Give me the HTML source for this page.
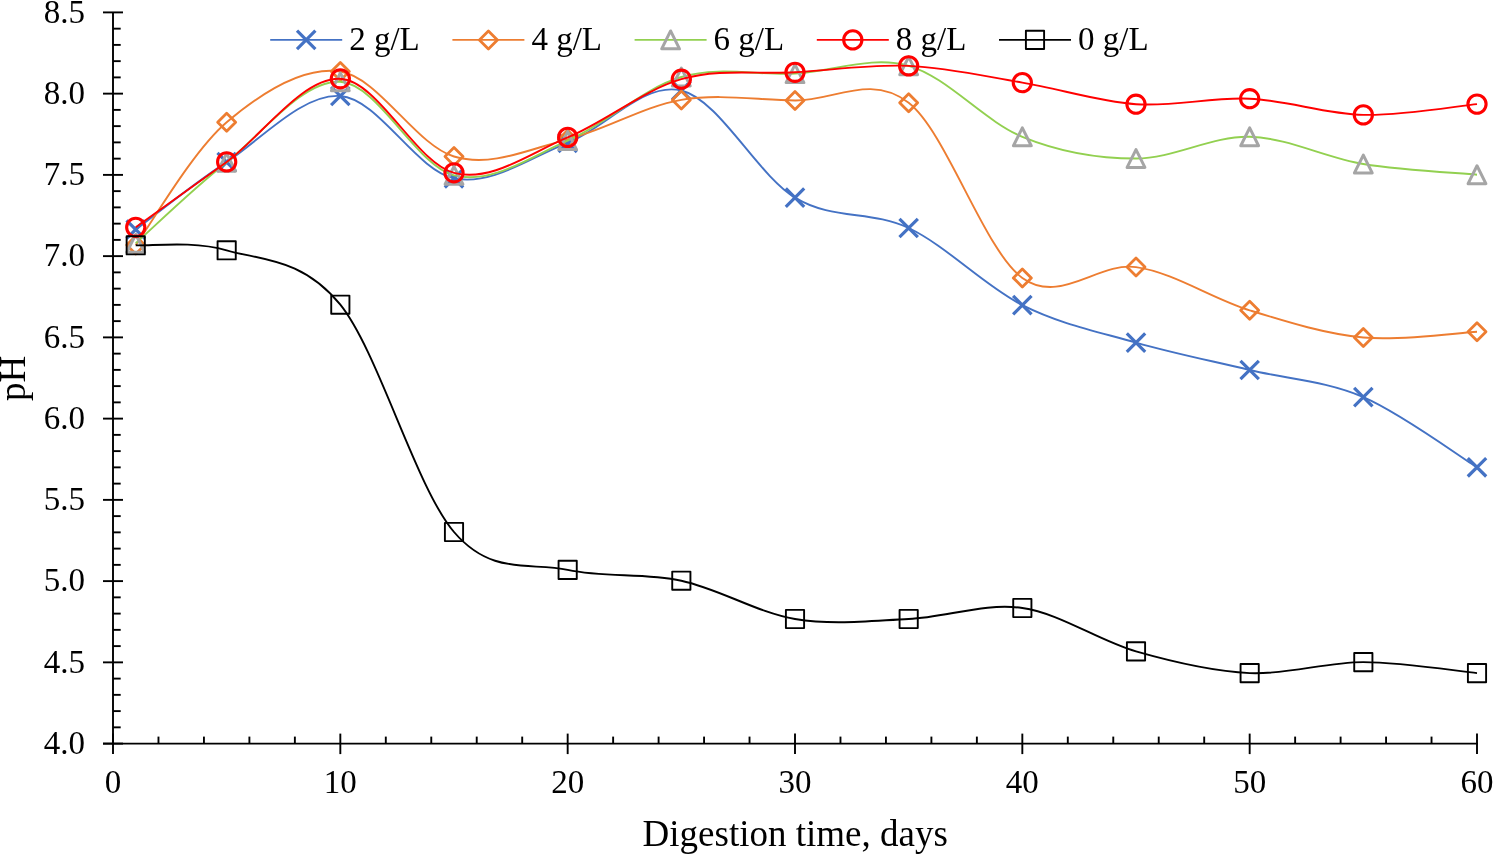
<!DOCTYPE html>
<html><head><meta charset="utf-8"><title>pH vs digestion time</title>
<style>
html,body{margin:0;padding:0;background:#fff;width:1493px;height:854px;overflow:hidden}
svg{display:block;will-change:transform}
.t{font-family:"Liberation Serif",serif;font-size:33px;fill:#000}
.ti{font-family:"Liberation Serif",serif;font-size:37px;fill:#000}
</style></head><body>
<svg width="1493" height="854" viewBox="0 0 1493 854">
<rect width="1493" height="854" fill="#fff"/>
<line x1="113.0" y1="12.40" x2="113.0" y2="744.60" stroke="#000" stroke-width="1.9"/>
<line x1="103.00" y1="743.6" x2="1478.00" y2="743.6" stroke="#000" stroke-width="1.9"/>
<line x1="103.00" y1="743.60" x2="123.00" y2="743.60" stroke="#000" stroke-width="1.9"/>
<line x1="113.00" y1="727.35" x2="120.70" y2="727.35" stroke="#000" stroke-width="1.9"/>
<line x1="113.00" y1="711.10" x2="120.70" y2="711.10" stroke="#000" stroke-width="1.9"/>
<line x1="113.00" y1="694.85" x2="120.70" y2="694.85" stroke="#000" stroke-width="1.9"/>
<line x1="113.00" y1="678.60" x2="120.70" y2="678.60" stroke="#000" stroke-width="1.9"/>
<line x1="103.00" y1="662.36" x2="123.00" y2="662.36" stroke="#000" stroke-width="1.9"/>
<line x1="113.00" y1="646.11" x2="120.70" y2="646.11" stroke="#000" stroke-width="1.9"/>
<line x1="113.00" y1="629.86" x2="120.70" y2="629.86" stroke="#000" stroke-width="1.9"/>
<line x1="113.00" y1="613.61" x2="120.70" y2="613.61" stroke="#000" stroke-width="1.9"/>
<line x1="113.00" y1="597.36" x2="120.70" y2="597.36" stroke="#000" stroke-width="1.9"/>
<line x1="103.00" y1="581.11" x2="123.00" y2="581.11" stroke="#000" stroke-width="1.9"/>
<line x1="113.00" y1="564.86" x2="120.70" y2="564.86" stroke="#000" stroke-width="1.9"/>
<line x1="113.00" y1="548.61" x2="120.70" y2="548.61" stroke="#000" stroke-width="1.9"/>
<line x1="113.00" y1="532.36" x2="120.70" y2="532.36" stroke="#000" stroke-width="1.9"/>
<line x1="113.00" y1="516.12" x2="120.70" y2="516.12" stroke="#000" stroke-width="1.9"/>
<line x1="103.00" y1="499.87" x2="123.00" y2="499.87" stroke="#000" stroke-width="1.9"/>
<line x1="113.00" y1="483.62" x2="120.70" y2="483.62" stroke="#000" stroke-width="1.9"/>
<line x1="113.00" y1="467.37" x2="120.70" y2="467.37" stroke="#000" stroke-width="1.9"/>
<line x1="113.00" y1="451.12" x2="120.70" y2="451.12" stroke="#000" stroke-width="1.9"/>
<line x1="113.00" y1="434.87" x2="120.70" y2="434.87" stroke="#000" stroke-width="1.9"/>
<line x1="103.00" y1="418.62" x2="123.00" y2="418.62" stroke="#000" stroke-width="1.9"/>
<line x1="113.00" y1="402.37" x2="120.70" y2="402.37" stroke="#000" stroke-width="1.9"/>
<line x1="113.00" y1="386.12" x2="120.70" y2="386.12" stroke="#000" stroke-width="1.9"/>
<line x1="113.00" y1="369.88" x2="120.70" y2="369.88" stroke="#000" stroke-width="1.9"/>
<line x1="113.00" y1="353.63" x2="120.70" y2="353.63" stroke="#000" stroke-width="1.9"/>
<line x1="103.00" y1="337.38" x2="123.00" y2="337.38" stroke="#000" stroke-width="1.9"/>
<line x1="113.00" y1="321.13" x2="120.70" y2="321.13" stroke="#000" stroke-width="1.9"/>
<line x1="113.00" y1="304.88" x2="120.70" y2="304.88" stroke="#000" stroke-width="1.9"/>
<line x1="113.00" y1="288.63" x2="120.70" y2="288.63" stroke="#000" stroke-width="1.9"/>
<line x1="113.00" y1="272.38" x2="120.70" y2="272.38" stroke="#000" stroke-width="1.9"/>
<line x1="103.00" y1="256.13" x2="123.00" y2="256.13" stroke="#000" stroke-width="1.9"/>
<line x1="113.00" y1="239.88" x2="120.70" y2="239.88" stroke="#000" stroke-width="1.9"/>
<line x1="113.00" y1="223.64" x2="120.70" y2="223.64" stroke="#000" stroke-width="1.9"/>
<line x1="113.00" y1="207.39" x2="120.70" y2="207.39" stroke="#000" stroke-width="1.9"/>
<line x1="113.00" y1="191.14" x2="120.70" y2="191.14" stroke="#000" stroke-width="1.9"/>
<line x1="103.00" y1="174.89" x2="123.00" y2="174.89" stroke="#000" stroke-width="1.9"/>
<line x1="113.00" y1="158.64" x2="120.70" y2="158.64" stroke="#000" stroke-width="1.9"/>
<line x1="113.00" y1="142.39" x2="120.70" y2="142.39" stroke="#000" stroke-width="1.9"/>
<line x1="113.00" y1="126.14" x2="120.70" y2="126.14" stroke="#000" stroke-width="1.9"/>
<line x1="113.00" y1="109.89" x2="120.70" y2="109.89" stroke="#000" stroke-width="1.9"/>
<line x1="103.00" y1="93.64" x2="123.00" y2="93.64" stroke="#000" stroke-width="1.9"/>
<line x1="113.00" y1="77.40" x2="120.70" y2="77.40" stroke="#000" stroke-width="1.9"/>
<line x1="113.00" y1="61.15" x2="120.70" y2="61.15" stroke="#000" stroke-width="1.9"/>
<line x1="113.00" y1="44.90" x2="120.70" y2="44.90" stroke="#000" stroke-width="1.9"/>
<line x1="113.00" y1="28.65" x2="120.70" y2="28.65" stroke="#000" stroke-width="1.9"/>
<line x1="103.00" y1="12.40" x2="123.00" y2="12.40" stroke="#000" stroke-width="1.9"/>
<line x1="113.00" y1="733.60" x2="113.00" y2="754.10" stroke="#000" stroke-width="1.9"/>
<line x1="158.47" y1="736.60" x2="158.47" y2="743.60" stroke="#000" stroke-width="1.9"/>
<line x1="203.93" y1="736.60" x2="203.93" y2="743.60" stroke="#000" stroke-width="1.9"/>
<line x1="249.40" y1="736.60" x2="249.40" y2="743.60" stroke="#000" stroke-width="1.9"/>
<line x1="294.87" y1="736.60" x2="294.87" y2="743.60" stroke="#000" stroke-width="1.9"/>
<line x1="340.33" y1="733.60" x2="340.33" y2="754.10" stroke="#000" stroke-width="1.9"/>
<line x1="385.80" y1="736.60" x2="385.80" y2="743.60" stroke="#000" stroke-width="1.9"/>
<line x1="431.27" y1="736.60" x2="431.27" y2="743.60" stroke="#000" stroke-width="1.9"/>
<line x1="476.73" y1="736.60" x2="476.73" y2="743.60" stroke="#000" stroke-width="1.9"/>
<line x1="522.20" y1="736.60" x2="522.20" y2="743.60" stroke="#000" stroke-width="1.9"/>
<line x1="567.67" y1="733.60" x2="567.67" y2="754.10" stroke="#000" stroke-width="1.9"/>
<line x1="613.13" y1="736.60" x2="613.13" y2="743.60" stroke="#000" stroke-width="1.9"/>
<line x1="658.60" y1="736.60" x2="658.60" y2="743.60" stroke="#000" stroke-width="1.9"/>
<line x1="704.07" y1="736.60" x2="704.07" y2="743.60" stroke="#000" stroke-width="1.9"/>
<line x1="749.53" y1="736.60" x2="749.53" y2="743.60" stroke="#000" stroke-width="1.9"/>
<line x1="795.00" y1="733.60" x2="795.00" y2="754.10" stroke="#000" stroke-width="1.9"/>
<line x1="840.47" y1="736.60" x2="840.47" y2="743.60" stroke="#000" stroke-width="1.9"/>
<line x1="885.93" y1="736.60" x2="885.93" y2="743.60" stroke="#000" stroke-width="1.9"/>
<line x1="931.40" y1="736.60" x2="931.40" y2="743.60" stroke="#000" stroke-width="1.9"/>
<line x1="976.87" y1="736.60" x2="976.87" y2="743.60" stroke="#000" stroke-width="1.9"/>
<line x1="1022.33" y1="733.60" x2="1022.33" y2="754.10" stroke="#000" stroke-width="1.9"/>
<line x1="1067.80" y1="736.60" x2="1067.80" y2="743.60" stroke="#000" stroke-width="1.9"/>
<line x1="1113.27" y1="736.60" x2="1113.27" y2="743.60" stroke="#000" stroke-width="1.9"/>
<line x1="1158.73" y1="736.60" x2="1158.73" y2="743.60" stroke="#000" stroke-width="1.9"/>
<line x1="1204.20" y1="736.60" x2="1204.20" y2="743.60" stroke="#000" stroke-width="1.9"/>
<line x1="1249.67" y1="733.60" x2="1249.67" y2="754.10" stroke="#000" stroke-width="1.9"/>
<line x1="1295.13" y1="736.60" x2="1295.13" y2="743.60" stroke="#000" stroke-width="1.9"/>
<line x1="1340.60" y1="736.60" x2="1340.60" y2="743.60" stroke="#000" stroke-width="1.9"/>
<line x1="1386.07" y1="736.60" x2="1386.07" y2="743.60" stroke="#000" stroke-width="1.9"/>
<line x1="1431.53" y1="736.60" x2="1431.53" y2="743.60" stroke="#000" stroke-width="1.9"/>
<line x1="1477.00" y1="733.60" x2="1477.00" y2="754.10" stroke="#000" stroke-width="1.9"/>
<text x="84.9" y="753.80" text-anchor="end" class="t">4.0</text>
<text x="84.9" y="672.56" text-anchor="end" class="t">4.5</text>
<text x="84.9" y="591.31" text-anchor="end" class="t">5.0</text>
<text x="84.9" y="510.07" text-anchor="end" class="t">5.5</text>
<text x="84.9" y="428.82" text-anchor="end" class="t">6.0</text>
<text x="84.9" y="347.58" text-anchor="end" class="t">6.5</text>
<text x="84.9" y="266.33" text-anchor="end" class="t">7.0</text>
<text x="84.9" y="185.09" text-anchor="end" class="t">7.5</text>
<text x="84.9" y="103.84" text-anchor="end" class="t">8.0</text>
<text x="84.9" y="22.60" text-anchor="end" class="t">8.5</text>
<text x="113.00" y="792.8" text-anchor="middle" class="t">0</text>
<text x="340.33" y="792.8" text-anchor="middle" class="t">10</text>
<text x="567.67" y="792.8" text-anchor="middle" class="t">20</text>
<text x="795.00" y="792.8" text-anchor="middle" class="t">30</text>
<text x="1022.33" y="792.8" text-anchor="middle" class="t">40</text>
<text x="1249.67" y="792.8" text-anchor="middle" class="t">50</text>
<text x="1477.00" y="792.8" text-anchor="middle" class="t">60</text>
<text x="795.2" y="846.4" text-anchor="middle" class="ti">Digestion time, days</text>
<text transform="translate(24.8,378.5) rotate(-90)" x="0" y="0" text-anchor="middle" class="ti">pH</text>
<path d="M135.73,229.50 C150.89,218.27 192.57,184.35 226.67,162.10 C260.77,139.85 302.44,93.30 340.33,96.00 C378.22,98.70 416.11,170.50 454.00,178.30 C491.89,186.10 529.78,157.43 567.67,142.80 C605.56,128.17 643.44,81.37 681.33,90.50 C719.22,99.63 757.11,174.68 795.00,197.60 C832.89,220.52 870.78,210.08 908.67,228.00 C946.56,245.92 984.44,286.00 1022.33,305.10 C1060.22,324.20 1098.11,331.78 1136.00,342.60 C1173.89,353.42 1211.78,360.92 1249.67,370.00 C1287.56,379.08 1325.44,380.88 1363.33,397.10 C1401.22,413.32 1458.06,455.60 1477.00,467.30" stroke="#4472C4" stroke-width="1.9" fill="none"/>
<path d="M126.53,220.30L144.93,238.70M126.53,238.70L144.93,220.30" stroke="#4472C4" stroke-width="3.2" fill="none"/>
<path d="M217.47,152.90L235.87,171.30M217.47,171.30L235.87,152.90" stroke="#4472C4" stroke-width="3.2" fill="none"/>
<path d="M331.13,86.80L349.53,105.20M331.13,105.20L349.53,86.80" stroke="#4472C4" stroke-width="3.2" fill="none"/>
<path d="M444.80,169.10L463.20,187.50M444.80,187.50L463.20,169.10" stroke="#4472C4" stroke-width="3.2" fill="none"/>
<path d="M558.47,133.60L576.87,152.00M558.47,152.00L576.87,133.60" stroke="#4472C4" stroke-width="3.2" fill="none"/>
<path d="M672.13,81.30L690.53,99.70M672.13,99.70L690.53,81.30" stroke="#4472C4" stroke-width="3.2" fill="none"/>
<path d="M785.80,188.40L804.20,206.80M785.80,206.80L804.20,188.40" stroke="#4472C4" stroke-width="3.2" fill="none"/>
<path d="M899.47,218.80L917.87,237.20M899.47,237.20L917.87,218.80" stroke="#4472C4" stroke-width="3.2" fill="none"/>
<path d="M1013.13,295.90L1031.53,314.30M1013.13,314.30L1031.53,295.90" stroke="#4472C4" stroke-width="3.2" fill="none"/>
<path d="M1126.80,333.40L1145.20,351.80M1126.80,351.80L1145.20,333.40" stroke="#4472C4" stroke-width="3.2" fill="none"/>
<path d="M1240.47,360.80L1258.87,379.20M1240.47,379.20L1258.87,360.80" stroke="#4472C4" stroke-width="3.2" fill="none"/>
<path d="M1354.13,387.90L1372.53,406.30M1354.13,406.30L1372.53,387.90" stroke="#4472C4" stroke-width="3.2" fill="none"/>
<path d="M1467.80,458.10L1486.20,476.50M1467.80,476.50L1486.20,458.10" stroke="#4472C4" stroke-width="3.2" fill="none"/>
<path d="M135.73,245.00 C150.89,224.55 192.57,151.22 226.67,122.30 C260.77,93.38 302.44,65.80 340.33,71.50 C378.22,77.20 416.11,145.20 454.00,156.50 C491.89,167.80 529.78,148.73 567.67,139.30 C605.56,129.87 643.44,106.37 681.33,99.90 C719.22,93.43 757.11,100.02 795.00,100.50 C832.89,100.98 870.78,73.23 908.67,102.80 C946.56,132.37 984.44,250.52 1022.33,277.90 C1060.22,305.28 1098.11,261.70 1136.00,267.10 C1173.89,272.50 1211.78,298.57 1249.67,310.30 C1287.56,322.03 1325.44,333.92 1363.33,337.50 C1401.22,341.08 1458.06,332.75 1477.00,331.80" stroke="#ED7D31" stroke-width="1.9" fill="none"/>
<path d="M135.73,236.00L144.73,245.00L135.73,254.00L126.73,245.00Z" stroke="#ED7D31" stroke-width="2.8" fill="none" stroke-linejoin="round"/>
<path d="M226.67,113.30L235.67,122.30L226.67,131.30L217.67,122.30Z" stroke="#ED7D31" stroke-width="2.8" fill="none" stroke-linejoin="round"/>
<path d="M340.33,62.50L349.33,71.50L340.33,80.50L331.33,71.50Z" stroke="#ED7D31" stroke-width="2.8" fill="none" stroke-linejoin="round"/>
<path d="M454.00,147.50L463.00,156.50L454.00,165.50L445.00,156.50Z" stroke="#ED7D31" stroke-width="2.8" fill="none" stroke-linejoin="round"/>
<path d="M567.67,130.30L576.67,139.30L567.67,148.30L558.67,139.30Z" stroke="#ED7D31" stroke-width="2.8" fill="none" stroke-linejoin="round"/>
<path d="M681.33,90.90L690.33,99.90L681.33,108.90L672.33,99.90Z" stroke="#ED7D31" stroke-width="2.8" fill="none" stroke-linejoin="round"/>
<path d="M795.00,91.50L804.00,100.50L795.00,109.50L786.00,100.50Z" stroke="#ED7D31" stroke-width="2.8" fill="none" stroke-linejoin="round"/>
<path d="M908.67,93.80L917.67,102.80L908.67,111.80L899.67,102.80Z" stroke="#ED7D31" stroke-width="2.8" fill="none" stroke-linejoin="round"/>
<path d="M1022.33,268.90L1031.33,277.90L1022.33,286.90L1013.33,277.90Z" stroke="#ED7D31" stroke-width="2.8" fill="none" stroke-linejoin="round"/>
<path d="M1136.00,258.10L1145.00,267.10L1136.00,276.10L1127.00,267.10Z" stroke="#ED7D31" stroke-width="2.8" fill="none" stroke-linejoin="round"/>
<path d="M1249.67,301.30L1258.67,310.30L1249.67,319.30L1240.67,310.30Z" stroke="#ED7D31" stroke-width="2.8" fill="none" stroke-linejoin="round"/>
<path d="M1363.33,328.50L1372.33,337.50L1363.33,346.50L1354.33,337.50Z" stroke="#ED7D31" stroke-width="2.8" fill="none" stroke-linejoin="round"/>
<path d="M1477.00,322.80L1486.00,331.80L1477.00,340.80L1468.00,331.80Z" stroke="#ED7D31" stroke-width="2.8" fill="none" stroke-linejoin="round"/>
<path d="M135.73,243.30 C150.89,229.80 192.57,189.22 226.67,162.30 C260.77,135.38 302.44,79.63 340.33,81.80 C378.22,83.97 416.11,165.50 454.00,175.30 C491.89,185.10 529.78,156.98 567.67,140.60 C605.56,124.22 643.44,88.17 681.33,77.00 C719.22,65.83 757.11,75.47 795.00,73.60 C832.89,71.73 870.78,55.27 908.67,65.80 C946.56,76.33 984.44,121.35 1022.33,136.80 C1060.22,152.25 1098.11,158.50 1136.00,158.50 C1173.89,158.50 1211.78,135.88 1249.67,136.80 C1287.56,137.72 1325.44,157.68 1363.33,164.00 C1401.22,170.32 1458.06,172.92 1477.00,174.70" stroke="#92D050" stroke-width="1.9" fill="none"/>
<path d="M135.73,234.35L144.63,252.25L126.83,252.25Z" stroke="#A5A5A5" stroke-width="3" fill="none" stroke-linejoin="round"/>
<path d="M226.67,153.35L235.57,171.25L217.77,171.25Z" stroke="#A5A5A5" stroke-width="3" fill="none" stroke-linejoin="round"/>
<path d="M340.33,72.85L349.23,90.75L331.43,90.75Z" stroke="#A5A5A5" stroke-width="3" fill="none" stroke-linejoin="round"/>
<path d="M454.00,166.35L462.90,184.25L445.10,184.25Z" stroke="#A5A5A5" stroke-width="3" fill="none" stroke-linejoin="round"/>
<path d="M567.67,131.65L576.57,149.55L558.77,149.55Z" stroke="#A5A5A5" stroke-width="3" fill="none" stroke-linejoin="round"/>
<path d="M681.33,68.05L690.23,85.95L672.43,85.95Z" stroke="#A5A5A5" stroke-width="3" fill="none" stroke-linejoin="round"/>
<path d="M795.00,64.65L803.90,82.55L786.10,82.55Z" stroke="#A5A5A5" stroke-width="3" fill="none" stroke-linejoin="round"/>
<path d="M908.67,56.85L917.57,74.75L899.77,74.75Z" stroke="#A5A5A5" stroke-width="3" fill="none" stroke-linejoin="round"/>
<path d="M1022.33,127.85L1031.23,145.75L1013.43,145.75Z" stroke="#A5A5A5" stroke-width="3" fill="none" stroke-linejoin="round"/>
<path d="M1136.00,149.55L1144.90,167.45L1127.10,167.45Z" stroke="#A5A5A5" stroke-width="3" fill="none" stroke-linejoin="round"/>
<path d="M1249.67,127.85L1258.57,145.75L1240.77,145.75Z" stroke="#A5A5A5" stroke-width="3" fill="none" stroke-linejoin="round"/>
<path d="M1363.33,155.05L1372.23,172.95L1354.43,172.95Z" stroke="#A5A5A5" stroke-width="3" fill="none" stroke-linejoin="round"/>
<path d="M1477.00,165.75L1485.90,183.65L1468.10,183.65Z" stroke="#A5A5A5" stroke-width="3" fill="none" stroke-linejoin="round"/>
<path d="M135.73,227.30 C150.89,216.40 192.57,186.65 226.67,161.90 C260.77,137.15 302.44,76.98 340.33,78.80 C378.22,80.62 416.11,163.03 454.00,172.80 C491.89,182.57 529.78,153.00 567.67,137.40 C605.56,121.80 643.44,90.05 681.33,79.20 C719.22,68.35 757.11,74.52 795.00,72.30 C832.89,70.08 870.78,64.18 908.67,65.90 C946.56,67.62 984.44,76.22 1022.33,82.60 C1060.22,88.98 1098.11,101.52 1136.00,104.20 C1173.89,106.88 1211.78,96.93 1249.67,98.70 C1287.56,100.47 1325.44,113.95 1363.33,114.85 C1401.22,115.75 1458.06,105.89 1477.00,104.10" stroke="#FF0000" stroke-width="1.9" fill="none"/>
<circle cx="135.73" cy="227.30" r="9.1" stroke="#FF0000" stroke-width="3.1" fill="none"/>
<circle cx="226.67" cy="161.90" r="9.1" stroke="#FF0000" stroke-width="3.1" fill="none"/>
<circle cx="340.33" cy="78.80" r="9.1" stroke="#FF0000" stroke-width="3.1" fill="none"/>
<circle cx="454.00" cy="172.80" r="9.1" stroke="#FF0000" stroke-width="3.1" fill="none"/>
<circle cx="567.67" cy="137.40" r="9.1" stroke="#FF0000" stroke-width="3.1" fill="none"/>
<circle cx="681.33" cy="79.20" r="9.1" stroke="#FF0000" stroke-width="3.1" fill="none"/>
<circle cx="795.00" cy="72.30" r="9.1" stroke="#FF0000" stroke-width="3.1" fill="none"/>
<circle cx="908.67" cy="65.90" r="9.1" stroke="#FF0000" stroke-width="3.1" fill="none"/>
<circle cx="1022.33" cy="82.60" r="9.1" stroke="#FF0000" stroke-width="3.1" fill="none"/>
<circle cx="1136.00" cy="104.20" r="9.1" stroke="#FF0000" stroke-width="3.1" fill="none"/>
<circle cx="1249.67" cy="98.70" r="9.1" stroke="#FF0000" stroke-width="3.1" fill="none"/>
<circle cx="1363.33" cy="114.85" r="9.1" stroke="#FF0000" stroke-width="3.1" fill="none"/>
<circle cx="1477.00" cy="104.10" r="9.1" stroke="#FF0000" stroke-width="3.1" fill="none"/>
<path d="M135.73,245.30 C150.89,246.13 192.57,240.40 226.67,250.30 C260.77,260.20 302.44,257.75 340.33,304.70 C378.22,351.65 416.11,487.80 454.00,532.00 C491.89,576.20 529.78,561.78 567.67,569.90 C605.56,578.02 643.44,572.52 681.33,580.70 C719.22,588.88 757.11,612.62 795.00,619.00 C832.89,625.38 870.78,620.83 908.67,619.00 C946.56,617.17 984.44,602.60 1022.33,608.00 C1060.22,613.40 1098.11,640.55 1136.00,651.40 C1173.89,662.25 1211.78,671.32 1249.67,673.10 C1287.56,674.88 1325.44,662.10 1363.33,662.10 C1401.22,662.10 1458.06,671.27 1477.00,673.10" stroke="#000000" stroke-width="1.9" fill="none"/>
<rect x="126.63" y="236.20" width="18.20" height="18.20" stroke="#000000" stroke-width="1.9" fill="none" stroke-linejoin="round"/>
<rect x="217.57" y="241.20" width="18.20" height="18.20" stroke="#000000" stroke-width="1.9" fill="none" stroke-linejoin="round"/>
<rect x="331.23" y="295.60" width="18.20" height="18.20" stroke="#000000" stroke-width="1.9" fill="none" stroke-linejoin="round"/>
<rect x="444.90" y="522.90" width="18.20" height="18.20" stroke="#000000" stroke-width="1.9" fill="none" stroke-linejoin="round"/>
<rect x="558.57" y="560.80" width="18.20" height="18.20" stroke="#000000" stroke-width="1.9" fill="none" stroke-linejoin="round"/>
<rect x="672.23" y="571.60" width="18.20" height="18.20" stroke="#000000" stroke-width="1.9" fill="none" stroke-linejoin="round"/>
<rect x="785.90" y="609.90" width="18.20" height="18.20" stroke="#000000" stroke-width="1.9" fill="none" stroke-linejoin="round"/>
<rect x="899.57" y="609.90" width="18.20" height="18.20" stroke="#000000" stroke-width="1.9" fill="none" stroke-linejoin="round"/>
<rect x="1013.23" y="598.90" width="18.20" height="18.20" stroke="#000000" stroke-width="1.9" fill="none" stroke-linejoin="round"/>
<rect x="1126.90" y="642.30" width="18.20" height="18.20" stroke="#000000" stroke-width="1.9" fill="none" stroke-linejoin="round"/>
<rect x="1240.57" y="664.00" width="18.20" height="18.20" stroke="#000000" stroke-width="1.9" fill="none" stroke-linejoin="round"/>
<rect x="1354.23" y="653.00" width="18.20" height="18.20" stroke="#000000" stroke-width="1.9" fill="none" stroke-linejoin="round"/>
<rect x="1467.90" y="664.00" width="18.20" height="18.20" stroke="#000000" stroke-width="1.9" fill="none" stroke-linejoin="round"/>
<line x1="270.20" y1="39.9" x2="342.20" y2="39.9" stroke="#4472C4" stroke-width="1.9"/>
<path d="M297.00,30.70L315.40,49.10M297.00,49.10L315.40,30.70" stroke="#4472C4" stroke-width="3.2" fill="none"/>
<text x="349.20" y="49.9" class="t">2 g/L</text>
<line x1="452.40" y1="39.9" x2="524.40" y2="39.9" stroke="#ED7D31" stroke-width="1.9"/>
<path d="M488.40,30.90L497.40,39.90L488.40,48.90L479.40,39.90Z" stroke="#ED7D31" stroke-width="2.8" fill="none" stroke-linejoin="round"/>
<text x="531.40" y="49.9" class="t">4 g/L</text>
<line x1="634.60" y1="39.9" x2="706.60" y2="39.9" stroke="#92D050" stroke-width="1.9"/>
<path d="M670.60,30.95L679.50,48.85L661.70,48.85Z" stroke="#A5A5A5" stroke-width="3" fill="none" stroke-linejoin="round"/>
<text x="713.60" y="49.9" class="t">6 g/L</text>
<line x1="816.80" y1="39.9" x2="888.80" y2="39.9" stroke="#FF0000" stroke-width="1.9"/>
<circle cx="852.80" cy="39.90" r="9.1" stroke="#FF0000" stroke-width="3.1" fill="none"/>
<text x="895.80" y="49.9" class="t">8 g/L</text>
<line x1="999.00" y1="39.9" x2="1071.00" y2="39.9" stroke="#000000" stroke-width="1.9"/>
<rect x="1025.90" y="30.80" width="18.20" height="18.20" stroke="#000000" stroke-width="1.9" fill="none" stroke-linejoin="round"/>
<text x="1078.00" y="49.9" class="t">0 g/L</text>
</svg>
</body></html>
